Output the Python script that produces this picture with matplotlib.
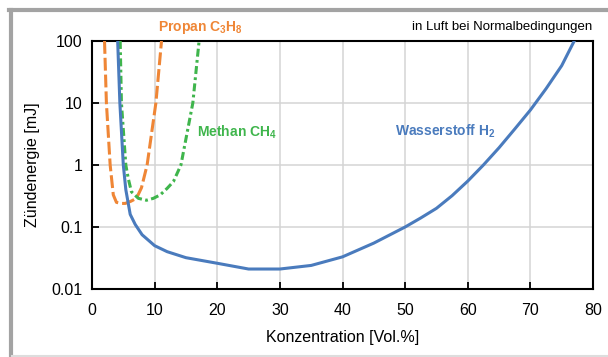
import matplotlib.pyplot as plt
from matplotlib.lines import Line2D

plt.rcParams['font.family'] = ['Liberation Sans', 'DejaVu Sans']
plt.rcParams['mathtext.fontset'] = 'custom'
plt.rcParams['mathtext.rm'] = 'Liberation Sans:bold'
plt.rcParams['mathtext.bf'] = 'Liberation Sans:bold'
plt.rcParams['mathtext.default'] = 'bf'

# --- data ---
h2_x = [4.1, 4.45, 5.0, 5.4, 6.1, 6.9, 8.0, 10, 12, 15, 20, 25, 30, 35, 40, 45, 50,
        52.5, 55, 57.5, 60, 62.5, 65, 67.5, 70, 72.5, 75, 77]
h2_y = [100, 10, 1, 0.4, 0.16, 0.11, 0.075, 0.05, 0.04, 0.032, 0.026, 0.021, 0.021, 0.024,
        0.033, 0.055, 0.1, 0.14, 0.2, 0.32, 0.55, 1.0, 1.9, 3.8, 7.7, 17, 40, 100]

c3h8_x = [2.0, 2.3, 2.9, 3.4, 3.9, 4.6, 5.3, 6.2, 7.1, 7.9, 8.8, 10.2, 11.1]
c3h8_y = [100, 10, 1, 0.33, 0.25, 0.24, 0.24, 0.26, 0.29, 0.43, 1, 10, 100]

ch4_x = [4.5, 4.7, 5.4, 5.8, 6.3, 7.4, 8.7, 9.8, 10.9, 12.0, 13.0, 14.2, 16.1, 17.1]
ch4_y = [100, 10, 1, 0.6, 0.37, 0.29, 0.27, 0.29, 0.33, 0.42, 0.54, 1, 10, 100]

x_ticks = [0, 10, 20, 30, 40, 50, 60, 70, 80]
y_ticks = [0.01, 0.1, 1, 10, 100]
y_labels = ['0.01', '0.1', '1', '10', '100']

BLUE = '#4a7bbd'
ORANGE = '#ef8636'
GREEN = '#3fb54c'

fig = plt.figure(figsize=(6.08, 3.57), dpi=100)
fig.patch.set_facecolor('white')

# gray frame around the figure (left / top heavy, bottom light)
fig.add_artist(Line2D([10.5 / 608, 10.5 / 608], [0, 1 - 10 / 357], color='#a3a3a3', lw=3, transform=fig.transFigure))
fig.add_artist(Line2D([9 / 608, 1], [1 - 10 / 357, 1 - 10 / 357], color='#a3a3a3', lw=3, transform=fig.transFigure))
fig.add_artist(Line2D([12 / 608, 1], [1.5 / 357, 1.5 / 357], color='#dddddd', lw=1.5, transform=fig.transFigure))

ax = fig.add_axes([92 / 608, 68 / 357, 501 / 608, 248 / 357])

ax.plot(h2_x, h2_y, color=BLUE, lw=2.2, solid_joinstyle='round', zorder=4)
ax.plot(c3h8_x, c3h8_y, color=ORANGE, lw=2.2, dashes=(4.2, 1.3), zorder=3)
ax.plot(ch4_x, ch4_y, color=GREEN, lw=2.2, dashes=(2.6, 1.1, 0.9, 1.1), zorder=3)

ax.set_yscale('log')
ax.set_xlim(0, 80)
ax.set_ylim(0.01, 100)
ax.set_xticks(x_ticks)
ax.set_yticks(y_ticks)
ax.set_yticklabels(y_labels)
ax.minorticks_off()
ax.grid(True, color='#d4d4d4', lw=1.1)
ax.set_axisbelow(True)
ax.tick_params(direction='in', length=5, width=1.3, labelsize=11.5, colors='black')
ax.tick_params(axis='x', pad=10)
ax.tick_params(axis='y', pad=7)
for s in ax.spines.values():
    s.set_linewidth(1.5)
    s.set_color('black')

ax.set_xlabel('Konzentration [Vol.%]', fontsize=11.5, labelpad=9)
ax.set_ylabel('Zündenergie [mJ]', fontsize=11.5, labelpad=8)

# curve labels
ax.text(0.217, 1.055, 'Propan C$_3$H$_8$', transform=ax.transAxes, color=ORANGE,
        fontsize=10, fontweight='bold', ha='center', va='center')
ax.text(0.21, 0.63, 'Methan CH$_4$', transform=ax.transAxes, color=GREEN,
        fontsize=10, fontweight='bold', ha='left', va='center')
ax.text(0.604, 0.637, 'Wasserstoff H$_2$', transform=ax.transAxes, color=BLUE,
        fontsize=10, fontweight='bold', ha='left', va='center')
ax.text(0.998, 1.058, 'in Luft bei Normalbedingungen', transform=ax.transAxes,
        fontsize=9.5, ha='right', va='center')

plt.savefig('out.png', dpi=100)
